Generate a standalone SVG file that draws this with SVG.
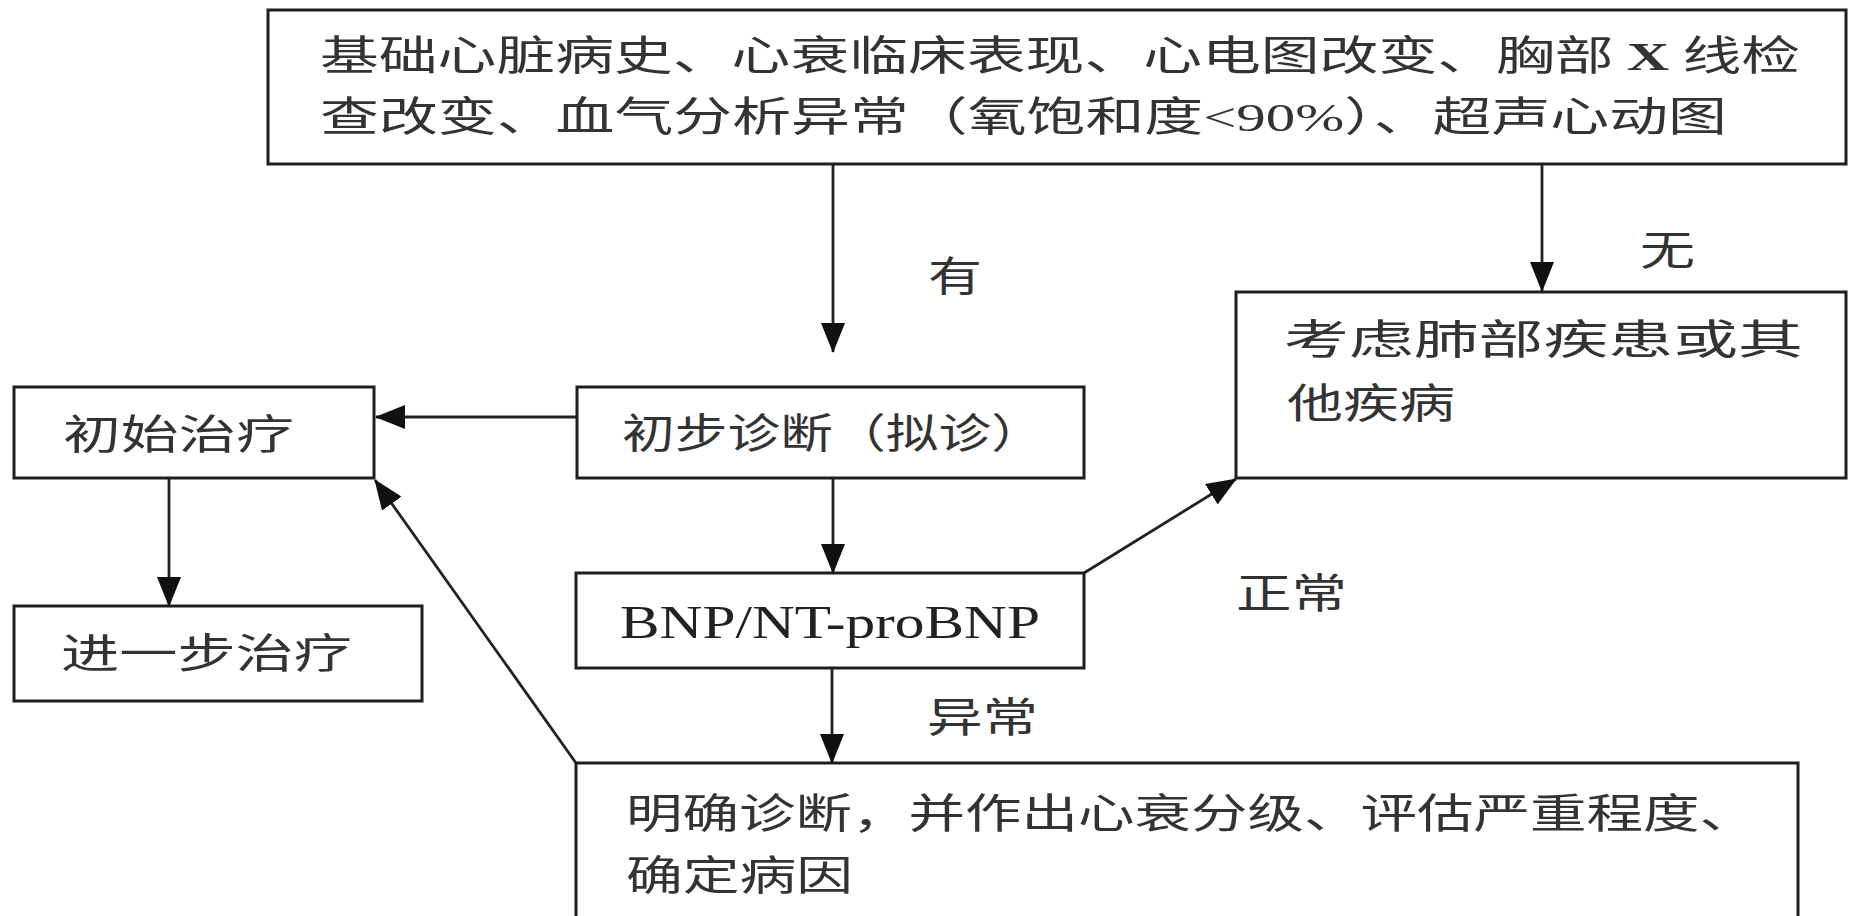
<svg xmlns="http://www.w3.org/2000/svg" width="1854" height="916" viewBox="0 0 1854 916">
<style>
.box{fill:#fff;stroke:#1e1e1e;stroke-width:3}
.conn{stroke:#222;stroke-width:2.8;fill:none}
.t{font-family:"Noto Sans CJK SC","Noto Sans CJK TC",sans-serif;font-size:41px;fill:#333}
.s{font-family:"Liberation Serif",serif}
</style>
<defs>
<marker id="ah" markerUnits="userSpaceOnUse" markerWidth="30" markerHeight="24" refX="29" refY="12" orient="auto">
<path d="M0,0 L30,12 L0,24 z" fill="#111"/>
</marker>
</defs>
<rect width="1854" height="916" fill="#fff"/>
<g id="connectors">
<line class="conn" x1="833" y1="164" x2="833" y2="352" marker-end="url(#ah)"/>
<line class="conn" x1="1542" y1="164" x2="1542" y2="291" marker-end="url(#ah)"/>
<line class="conn" x1="577" y1="417" x2="376" y2="417" marker-end="url(#ah)"/>
<line class="conn" x1="169" y1="478" x2="169" y2="606" marker-end="url(#ah)"/>
<line class="conn" x1="833" y1="478" x2="833" y2="573" marker-end="url(#ah)"/>
<line class="conn" x1="832" y1="668" x2="832" y2="763" marker-end="url(#ah)"/>
<line class="conn" x1="1084" y1="573" x2="1236" y2="479" marker-end="url(#ah)"/>
<line class="conn" x1="576" y1="763" x2="375" y2="480" marker-end="url(#ah)"/>
<text class="t" x="928" y="291" textLength="54" lengthAdjust="spacingAndGlyphs">有</text>
<text class="t" x="1640" y="265" textLength="55" lengthAdjust="spacingAndGlyphs">无</text>
<text class="t" x="1236" y="608" textLength="111" lengthAdjust="spacingAndGlyphs">正常</text>
<text class="t" x="927" y="732" textLength="111" lengthAdjust="spacingAndGlyphs">异常</text>
</g>
<g id="n-top">
<rect class="box" x="268" y="10" width="1578" height="154"/>
<text class="t" x="320" y="70" textLength="1480" lengthAdjust="spacingAndGlyphs">基础心脏病史、心衰临床表现、心电图改变、胸部 <tspan class="s" font-weight="bold">X</tspan> 线检</text>
<text class="t" x="320" y="131" textLength="1407" lengthAdjust="spacingAndGlyphs">查改变、血气分析异常（氧饱和度<tspan class="s">&lt;90%</tspan>）、超声心动图</text>
</g>
<g id="n-lung">
<rect class="box" x="1236" y="292" width="610" height="186"/>
<text class="t" x="1284" y="354" textLength="519" lengthAdjust="spacingAndGlyphs">考虑肺部疾患或其</text>
<text class="t" x="1287" y="418" textLength="168" lengthAdjust="spacingAndGlyphs">他疾病</text>
</g>
<g id="n-init-treat">
<rect class="box" x="14" y="387" width="360" height="91"/>
<text class="t" x="63" y="449" textLength="231" lengthAdjust="spacingAndGlyphs">初始治疗</text>
</g>
<g id="n-prelim">
<rect class="box" x="577" y="387" width="507" height="91"/>
<text class="t" x="622" y="448" textLength="422" lengthAdjust="spacingAndGlyphs">初步诊断（拟诊）</text>
</g>
<g id="n-further">
<rect class="box" x="14" y="606" width="408" height="95"/>
<text class="t" x="61" y="668" textLength="291" lengthAdjust="spacingAndGlyphs">进一步治疗</text>
</g>
<g id="n-bnp">
<rect class="box" x="576" y="573" width="508" height="95"/>
<text class="s" x="620" y="638" font-size="47" fill="#222" textLength="420" lengthAdjust="spacingAndGlyphs">BNP/NT-proBNP</text>
</g>
<g id="n-confirm">
<rect class="box" x="576" y="763" width="1222" height="180"/>
<text class="t" x="626" y="828" textLength="1130" lengthAdjust="spacingAndGlyphs">明确诊断，并作出心衰分级、评估严重程度、</text>
<text class="t" x="626" y="890" textLength="227" lengthAdjust="spacingAndGlyphs">确定病因</text>
</g>
</svg>
